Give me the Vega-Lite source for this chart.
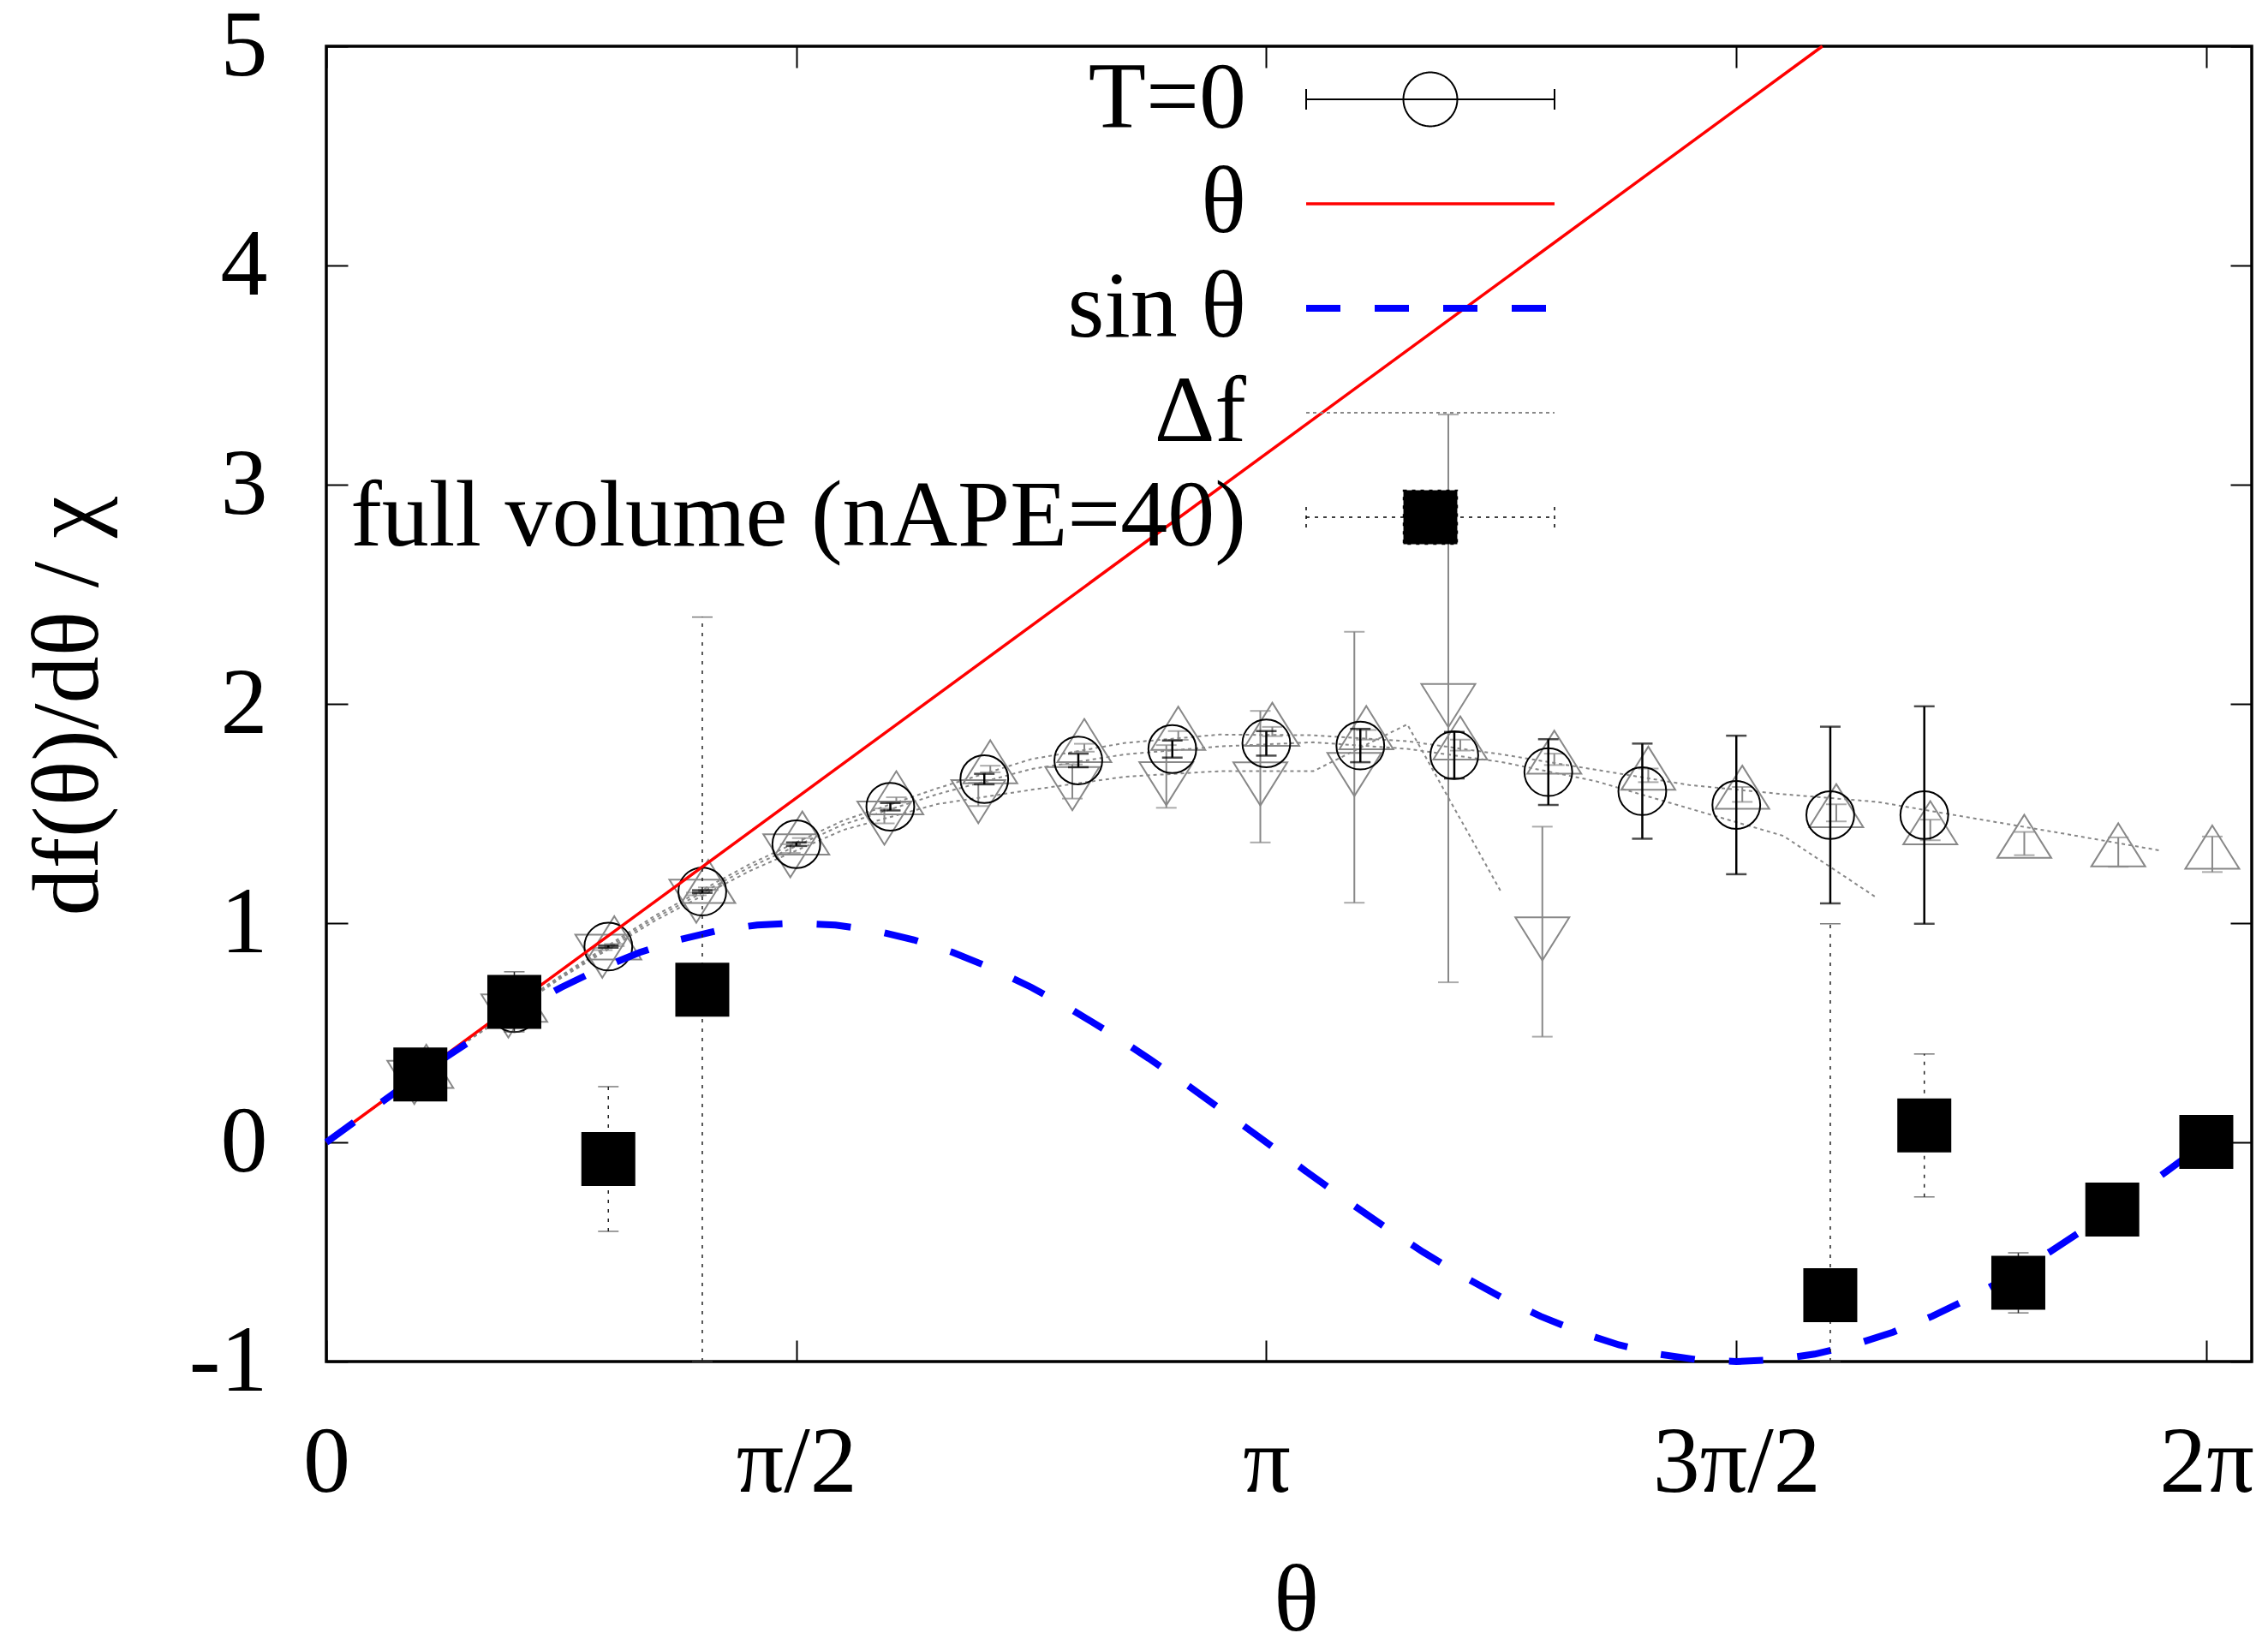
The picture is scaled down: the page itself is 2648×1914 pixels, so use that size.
{
  "$schema": "https://vega.github.io/schema/vega-lite/v6.json",
  "width": 2248,
  "height": 1536,
  "autosize": {"type": "none"},
  "padding": {"left": 381, "top": 54, "right": 19, "bottom": 324},
  "background": "white",
  "config": {
    "view": {"stroke": "black", "strokeWidth": 3.5},
    "font": "Liberation Serif",
    "axis": {
      "labelFont": "Liberation Serif",
      "titleFont": "Liberation Serif",
      "labelColor": "black",
      "titleColor": "black",
      "labelFontSize": 110,
      "titleFontSize": 110,
      "titleFontWeight": "normal",
      "grid": false,
      "domain": false,
      "tickColor": "black",
      "tickWidth": 2,
      "tickSize": -25,
      "labelFlush": false,
      "labelOverlap": false,
      "labelBound": false,
      "labelLimit": 2000,
      "titleLimit": 3000
    }
  },
  "resolve": {"axis": {"x": "independent", "y": "independent"}},
  "datasets": {
    "df": [
      {"curve": "c1", "theta": 0.1571, "v": 0.155},
      {"curve": "c1", "theta": 0.4712, "v": 0.460},
      {"curve": "c1", "theta": 0.7854, "v": 0.750},
      {"curve": "c1", "theta": 1.0996, "v": 1.012},
      {"curve": "c1", "theta": 1.4137, "v": 1.237},
      {"curve": "c1", "theta": 1.7279, "v": 1.425},
      {"curve": "c1", "theta": 2.0420, "v": 1.543},
      {"curve": "c1", "theta": 2.3562, "v": 1.608},
      {"curve": "c1", "theta": 2.6704, "v": 1.668},
      {"curve": "c1", "theta": 2.9845, "v": 1.693},
      {"curve": "c1", "theta": 3.2987, "v": 1.693},
      {"curve": "c1", "theta": 3.6128, "v": 1.907},
      {"curve": "c1", "theta": 3.9270, "v": 1.141},
      {"curve": "c2", "theta": 0.1571, "v": 0.156},
      {"curve": "c2", "theta": 0.4712, "v": 0.463},
      {"curve": "c2", "theta": 0.7854, "v": 0.756},
      {"curve": "c2", "theta": 1.0996, "v": 1.024},
      {"curve": "c2", "theta": 1.4137, "v": 1.254},
      {"curve": "c2", "theta": 1.7279, "v": 1.450},
      {"curve": "c2", "theta": 2.0420, "v": 1.588},
      {"curve": "c2", "theta": 2.3562, "v": 1.703},
      {"curve": "c2", "theta": 2.6704, "v": 1.770},
      {"curve": "c2", "theta": 2.9845, "v": 1.806},
      {"curve": "c2", "theta": 3.2987, "v": 1.825},
      {"curve": "c2", "theta": 3.6128, "v": 1.795},
      {"curve": "c2", "theta": 3.9270, "v": 1.735},
      {"curve": "c2", "theta": 4.2412, "v": 1.648},
      {"curve": "c2", "theta": 4.5553, "v": 1.523},
      {"curve": "c2", "theta": 4.8695, "v": 1.398},
      {"curve": "c2", "theta": 5.1836, "v": 1.114},
      {"curve": "c3", "theta": 0.1571, "v": 0.157},
      {"curve": "c3", "theta": 0.4712, "v": 0.466},
      {"curve": "c3", "theta": 0.7854, "v": 0.762},
      {"curve": "c3", "theta": 1.0996, "v": 1.035},
      {"curve": "c3", "theta": 1.4137, "v": 1.268},
      {"curve": "c3", "theta": 1.7279, "v": 1.468},
      {"curve": "c3", "theta": 2.0420, "v": 1.615},
      {"curve": "c3", "theta": 2.3562, "v": 1.748},
      {"curve": "c3", "theta": 2.6704, "v": 1.822},
      {"curve": "c3", "theta": 2.9845, "v": 1.860},
      {"curve": "c3", "theta": 3.2987, "v": 1.857},
      {"curve": "c3", "theta": 3.6128, "v": 1.830},
      {"curve": "c3", "theta": 3.9270, "v": 1.770},
      {"curve": "c3", "theta": 4.2412, "v": 1.700},
      {"curve": "c3", "theta": 4.5553, "v": 1.630},
      {"curve": "c3", "theta": 4.8695, "v": 1.588},
      {"curve": "c3", "theta": 5.1836, "v": 1.553},
      {"curve": "c3", "theta": 5.4978, "v": 1.480},
      {"curve": "c3", "theta": 5.8119, "v": 1.407},
      {"curve": "c3", "theta": 6.1261, "v": 1.332}
    ],
    "tri": [
      {"kind": "up", "theta": 0.3342, "v": 0.314, "err": 0.004},
      {"kind": "up", "theta": 0.6483, "v": 0.615, "err": 0.004},
      {"kind": "up", "theta": 0.9625, "v": 0.900, "err": 0.005},
      {"kind": "up", "theta": 1.2766, "v": 1.157, "err": 0.006},
      {"kind": "up", "theta": 1.5908, "v": 1.378, "err": 0.010},
      {"kind": "up", "theta": 1.9050, "v": 1.562, "err": 0.012},
      {"kind": "up", "theta": 2.2191, "v": 1.703, "err": 0.015},
      {"kind": "up", "theta": 2.5333, "v": 1.800, "err": 0.018},
      {"kind": "up", "theta": 2.8474, "v": 1.856, "err": 0.020},
      {"kind": "up", "theta": 3.1616, "v": 1.874, "err": 0.021},
      {"kind": "up", "theta": 3.4758, "v": 1.859, "err": 0.022},
      {"kind": "up", "theta": 3.7899, "v": 1.812, "err": 0.025},
      {"kind": "up", "theta": 4.1041, "v": 1.747, "err": 0.026},
      {"kind": "up", "theta": 4.4182, "v": 1.674, "err": 0.031},
      {"kind": "up", "theta": 4.7324, "v": 1.587, "err": 0.034},
      {"kind": "up", "theta": 5.0465, "v": 1.503, "err": 0.039},
      {"kind": "up", "theta": 5.3607, "v": 1.425, "err": 0.047},
      {"kind": "up", "theta": 5.6749, "v": 1.363, "err": 0.053},
      {"kind": "up", "theta": 5.9890, "v": 1.324, "err": 0.067},
      {"kind": "up", "theta": 6.3032, "v": 1.314, "err": 0.081},
      {"kind": "down", "theta": 0.2942, "v": 0.306, "err": 0.004},
      {"kind": "down", "theta": 0.6083, "v": 0.609, "err": 0.004},
      {"kind": "down", "theta": 0.9225, "v": 0.882, "err": 0.005},
      {"kind": "down", "theta": 1.2366, "v": 1.133, "err": 0.006},
      {"kind": "down", "theta": 1.5508, "v": 1.340, "err": 0.020},
      {"kind": "down", "theta": 1.8650, "v": 1.489, "err": 0.034},
      {"kind": "down", "theta": 2.1791, "v": 1.587, "err": 0.053},
      {"kind": "down", "theta": 2.4933, "v": 1.646, "err": 0.078},
      {"kind": "down", "theta": 2.8074, "v": 1.669, "err": 0.143},
      {"kind": "down", "theta": 3.1216, "v": 1.668, "err": 0.300},
      {"kind": "down", "theta": 3.4358, "v": 1.711, "err": 0.618},
      {"kind": "down", "theta": 3.7499, "v": 2.025, "err": 1.295},
      {"kind": "down", "theta": 4.0641, "v": 0.961, "err": 0.479}
    ],
    "t0": [
      {"theta": 0.3142, "v": 0.311, "err": 0.003},
      {"theta": 0.6283, "v": 0.612, "err": 0.004},
      {"theta": 0.9425, "v": 0.893, "err": 0.005},
      {"theta": 1.2566, "v": 1.144, "err": 0.006},
      {"theta": 1.5708, "v": 1.360, "err": 0.008},
      {"theta": 1.8850, "v": 1.531, "err": 0.017},
      {"theta": 2.1991, "v": 1.657, "err": 0.024},
      {"theta": 2.5133, "v": 1.742, "err": 0.031},
      {"theta": 2.8274, "v": 1.794, "err": 0.039},
      {"theta": 3.1416, "v": 1.820, "err": 0.056},
      {"theta": 3.4558, "v": 1.810, "err": 0.076},
      {"theta": 3.7699, "v": 1.766, "err": 0.106},
      {"theta": 4.0841, "v": 1.689, "err": 0.150},
      {"theta": 4.3982, "v": 1.602, "err": 0.217},
      {"theta": 4.7124, "v": 1.539, "err": 0.316},
      {"theta": 5.0265, "v": 1.493, "err": 0.403},
      {"theta": 5.3407, "v": 1.493, "err": 0.496}
    ],
    "full": [
      {"theta": 0.3142, "v": 0.310, "err": 0.050},
      {"theta": 0.6283, "v": 0.641, "err": 0.137},
      {"theta": 0.9425, "v": -0.076, "err": 0.330},
      {"theta": 1.2566, "v": 0.696, "err": 1.700},
      {"theta": 5.0265, "v": -0.697, "err": 1.694},
      {"theta": 5.3407, "v": 0.077, "err": 0.326},
      {"theta": 5.6549, "v": -0.641, "err": 0.137},
      {"theta": 5.9690, "v": -0.307, "err": 0.050},
      {"theta": 6.2832, "v": 0.002, "err": 0.030}
    ],
    "line": [
      {"series": "θ", "theta": 0, "v": 0},
      {"series": "θ", "theta": 5, "v": 5}
    ],
    "sin": [
      {"theta": 0.0000, "v": 0.000000},
      {"theta": 0.1309, "v": 0.130526},
      {"theta": 0.2618, "v": 0.258819},
      {"theta": 0.3927, "v": 0.382683},
      {"theta": 0.5236, "v": 0.500000},
      {"theta": 0.6545, "v": 0.608761},
      {"theta": 0.7854, "v": 0.707107},
      {"theta": 0.9163, "v": 0.793353},
      {"theta": 1.0472, "v": 0.866025},
      {"theta": 1.1781, "v": 0.923880},
      {"theta": 1.3090, "v": 0.965926},
      {"theta": 1.4399, "v": 0.991445},
      {"theta": 1.5708, "v": 1.000000},
      {"theta": 1.7017, "v": 0.991445},
      {"theta": 1.8326, "v": 0.965926},
      {"theta": 1.9635, "v": 0.923880},
      {"theta": 2.0944, "v": 0.866025},
      {"theta": 2.2253, "v": 0.793353},
      {"theta": 2.3562, "v": 0.707107},
      {"theta": 2.4871, "v": 0.608761},
      {"theta": 2.6180, "v": 0.500000},
      {"theta": 2.7489, "v": 0.382683},
      {"theta": 2.8798, "v": 0.258819},
      {"theta": 3.0107, "v": 0.130526},
      {"theta": 3.1416, "v": 0.000000},
      {"theta": 3.2725, "v": -0.130526},
      {"theta": 3.4034, "v": -0.258819},
      {"theta": 3.5343, "v": -0.382683},
      {"theta": 3.6652, "v": -0.500000},
      {"theta": 3.7961, "v": -0.608761},
      {"theta": 3.9270, "v": -0.707107},
      {"theta": 4.0579, "v": -0.793353},
      {"theta": 4.1888, "v": -0.866025},
      {"theta": 4.3197, "v": -0.923880},
      {"theta": 4.4506, "v": -0.965926},
      {"theta": 4.5815, "v": -0.991445},
      {"theta": 4.7124, "v": -1.000000},
      {"theta": 4.8433, "v": -0.991445},
      {"theta": 4.9742, "v": -0.965926},
      {"theta": 5.1051, "v": -0.923880},
      {"theta": 5.2360, "v": -0.866025},
      {"theta": 5.3669, "v": -0.793353},
      {"theta": 5.4978, "v": -0.707107},
      {"theta": 5.6287, "v": -0.608761},
      {"theta": 5.7596, "v": -0.500000},
      {"theta": 5.8905, "v": -0.382683},
      {"theta": 6.0214, "v": -0.258819},
      {"theta": 6.1523, "v": -0.130526},
      {"theta": 6.2832, "v": 0.000000}
    ]
  },
  "layer": [
    {
      "data": {"name": "df"},
      "mark": {"type": "line", "color": "#888888", "strokeWidth": 2, "strokeDash": [4, 4]},
      "encoding": {
        "x": {"field": "theta", "type": "quantitative", "scale": {"domain": [0, 6.435], "nice": false, "zero": false},
              "axis": {"orient": "top", "labels": false, "title": null, "values": [0, 1.5708, 3.1416, 4.7124, 6.2832]}},
        "y": {"field": "v", "type": "quantitative", "scale": {"domain": [-1, 5], "nice": false, "zero": false, "clamp": true},
              "axis": {"orient": "right", "labels": false, "title": null, "values": [-1, 0, 1, 2, 3, 4, 5]}},
        "detail": {"field": "curve", "type": "nominal"}
      }
    },
    {
      "data": {"name": "tri"},
      "mark": {"type": "errorbar", "color": "#888888", "ticks": {"size": 24, "thickness": 2, "color": "#888888"}, "rule": {"strokeWidth": 2, "color": "#888888"}},
      "encoding": {
        "x": {"field": "theta", "type": "quantitative", "scale": {"domain": [0, 6.435], "nice": false, "zero": false}, "axis": null},
        "y": {"field": "v", "type": "quantitative", "scale": {"domain": [-1, 5], "nice": false, "zero": false, "clamp": true}, "axis": null},
        "yError": {"field": "err"}
      }
    },
    {
      "data": {"name": "tri"},
      "mark": {"type": "point", "filled": false, "strokeWidth": 2, "color": "#888888", "opacity": 1, "size": 3969},
      "encoding": {
        "x": {"field": "theta", "type": "quantitative", "scale": {"domain": [0, 6.435], "nice": false, "zero": false}, "axis": null},
        "y": {"field": "v", "type": "quantitative", "scale": {"domain": [-1, 5], "nice": false, "zero": false, "clamp": true}, "axis": null},
        "shape": {"field": "kind", "type": "nominal", "scale": {"domain": ["up", "down"], "range": ["M0,-1.067L1,0.533L-1,0.533Z", "M0,1.067L1,-0.533L-1,-0.533Z"]}, "legend": null}
      }
    },
    {
      "data": {"name": "t0"},
      "mark": {"type": "errorbar", "color": "black", "ticks": {"size": 24, "thickness": 2.5, "color": "black"}, "rule": {"strokeWidth": 2.5, "color": "black"}},
      "encoding": {
        "x": {"field": "theta", "type": "quantitative", "scale": {"domain": [0, 6.435], "nice": false, "zero": false}, "axis": null},
        "y": {"field": "v", "type": "quantitative", "scale": {"domain": [-1, 5], "nice": false, "zero": false, "clamp": true}, "axis": null},
        "yError": {"field": "err"}
      }
    },
    {
      "data": {"name": "t0"},
      "mark": {"type": "point", "shape": "circle", "filled": false, "strokeWidth": 2, "color": "black", "opacity": 1, "size": 3117},
      "encoding": {
        "x": {"field": "theta", "type": "quantitative", "scale": {"domain": [0, 6.435], "nice": false, "zero": false}, "axis": null},
        "y": {"field": "v", "type": "quantitative", "scale": {"domain": [-1, 5], "nice": false, "zero": false, "clamp": true}, "axis": null}
      }
    },
    {
      "data": {"name": "line"},
      "mark": {"type": "line", "strokeWidth": 3.5},
      "encoding": {
        "x": {"field": "theta", "type": "quantitative", "scale": {"domain": [0, 6.435], "nice": false, "zero": false},
              "axis": {"orient": "bottom", "values": [0, 1.5708, 3.1416, 4.7124, 6.2832],
                       "labelExpr": "datum.value < 0.5 ? '0' : datum.value < 2 ? 'π/2' : datum.value < 4 ? 'π' : datum.value < 5.5 ? '3π/2' : '2π'",
                       "labelPadding": 176, "labelBaseline": "alphabetic", "labelAlign": "center", "labelLimit": 2000,
                       "title": "θ", "titleX": 1132, "titleY": 313, "titleBaseline": "alphabetic", "titleAlign": "center"}},
        "y": {"field": "v", "type": "quantitative", "scale": {"domain": [-1, 5], "nice": false, "zero": false, "clamp": true},
              "axis": {"orient": "left", "values": [-1, 0, 1, 2, 3, 4, 5], "labelExpr": "'' + datum.value", "labelLimit": 2000,
                       "labelPadding": 94, "title": "df(θ)/dθ / χ", "titleAngle": 270, "titleX": -268, "titleY": 770,
                       "titleBaseline": "alphabetic", "titleAlign": "center"}},
        "color": {"field": "series", "type": "nominal",
                  "scale": {"domain": ["T=0", "θ", "sin θ", "Δf", "full volume (nAPE=40)"], "range": ["black", "red", "blue", "#888888", "black"]},
                  "legend": {
                    "orient": "none", "legendX": 1234, "legendY": 7, "title": null, "padding": 0,
                    "symbolSize": 841, "symbolStrokeWidth": 2, "symbolOffset": 0,
                    "labelFont": "Liberation Serif", "labelFontSize": 110, "labelColor": "black",
                    "labelAlign": "right", "labelOffset": -270, "labelLimit": 3000, "rowPadding": 12,
                    "encode": {
                      "symbols": {
                        "update": {
                          "shape": {"signal": "datum.value === 'T=0' ? 'M-10,0H10M-10,-0.83V0.83M10,-0.83V0.83M2.17,0A2.17,2.17,0,1,1,-2.17,0A2.17,2.17,0,1,1,2.17,0' : datum.value === 'full volume (nAPE=40)' ? 'M-10,0H10M-10,-0.83V0.83M10,-0.83V0.83M-2.17,-2.17H2.17V2.17H-2.17Z' : 'M-10,0H10'"},
                          "stroke": {"signal": "datum.value === 'θ' ? 'red' : datum.value === 'sin θ' ? 'blue' : datum.value === 'Δf' ? '#888888' : 'black'"},
                          "fill": {"signal": "datum.value === 'full volume (nAPE=40)' ? 'black' : 'transparent'"},
                          "strokeWidth": {"signal": "datum.value === 'θ' ? 3.5 : datum.value === 'sin θ' ? 8 : datum.value === 'full volume (nAPE=40)' ? 1.5 : 2"},
                          "strokeDash": {"signal": "datum.value === 'sin θ' ? [40, 40] : datum.value === 'Δf' ? [4, 4] : datum.value === 'full volume (nAPE=40)' ? [4, 6] : [1, 0]"},
                          "opacity": {"value": 1},
                          "fillOpacity": {"value": 1},
                          "strokeOpacity": {"value": 1},
                          "size": {"value": 841}
                        }
                      }
                    }
                  }}
      }
    },
    {
      "data": {"name": "sin"},
      "mark": {"type": "line", "color": "blue", "strokeWidth": 8, "strokeDash": [40, 40]},
      "encoding": {
        "x": {"field": "theta", "type": "quantitative", "scale": {"domain": [0, 6.435], "nice": false, "zero": false}, "axis": null},
        "y": {"field": "v", "type": "quantitative", "scale": {"domain": [-1, 5], "nice": false, "zero": false, "clamp": true}, "axis": null}
      }
    },
    {
      "data": {"name": "full"},
      "mark": {"type": "errorbar", "color": "#222222", "ticks": {"size": 24, "thickness": 1.5, "color": "#444444"}, "rule": {"strokeWidth": 1.5, "strokeDash": [4, 7], "color": "#222222"}},
      "encoding": {
        "x": {"field": "theta", "type": "quantitative", "scale": {"domain": [0, 6.435], "nice": false, "zero": false}, "axis": null},
        "y": {"field": "v", "type": "quantitative", "scale": {"domain": [-1, 5], "nice": false, "zero": false, "clamp": true}, "axis": null},
        "yError": {"field": "err"}
      }
    },
    {
      "data": {"name": "full"},
      "mark": {"type": "point", "shape": "square", "filled": true, "color": "black", "opacity": 1, "size": 3969},
      "encoding": {
        "x": {"field": "theta", "type": "quantitative", "scale": {"domain": [0, 6.435], "nice": false, "zero": false}, "axis": null},
        "y": {"field": "v", "type": "quantitative", "scale": {"domain": [-1, 5], "nice": false, "zero": false, "clamp": true}, "axis": null}
      }
    }
  ]
}
